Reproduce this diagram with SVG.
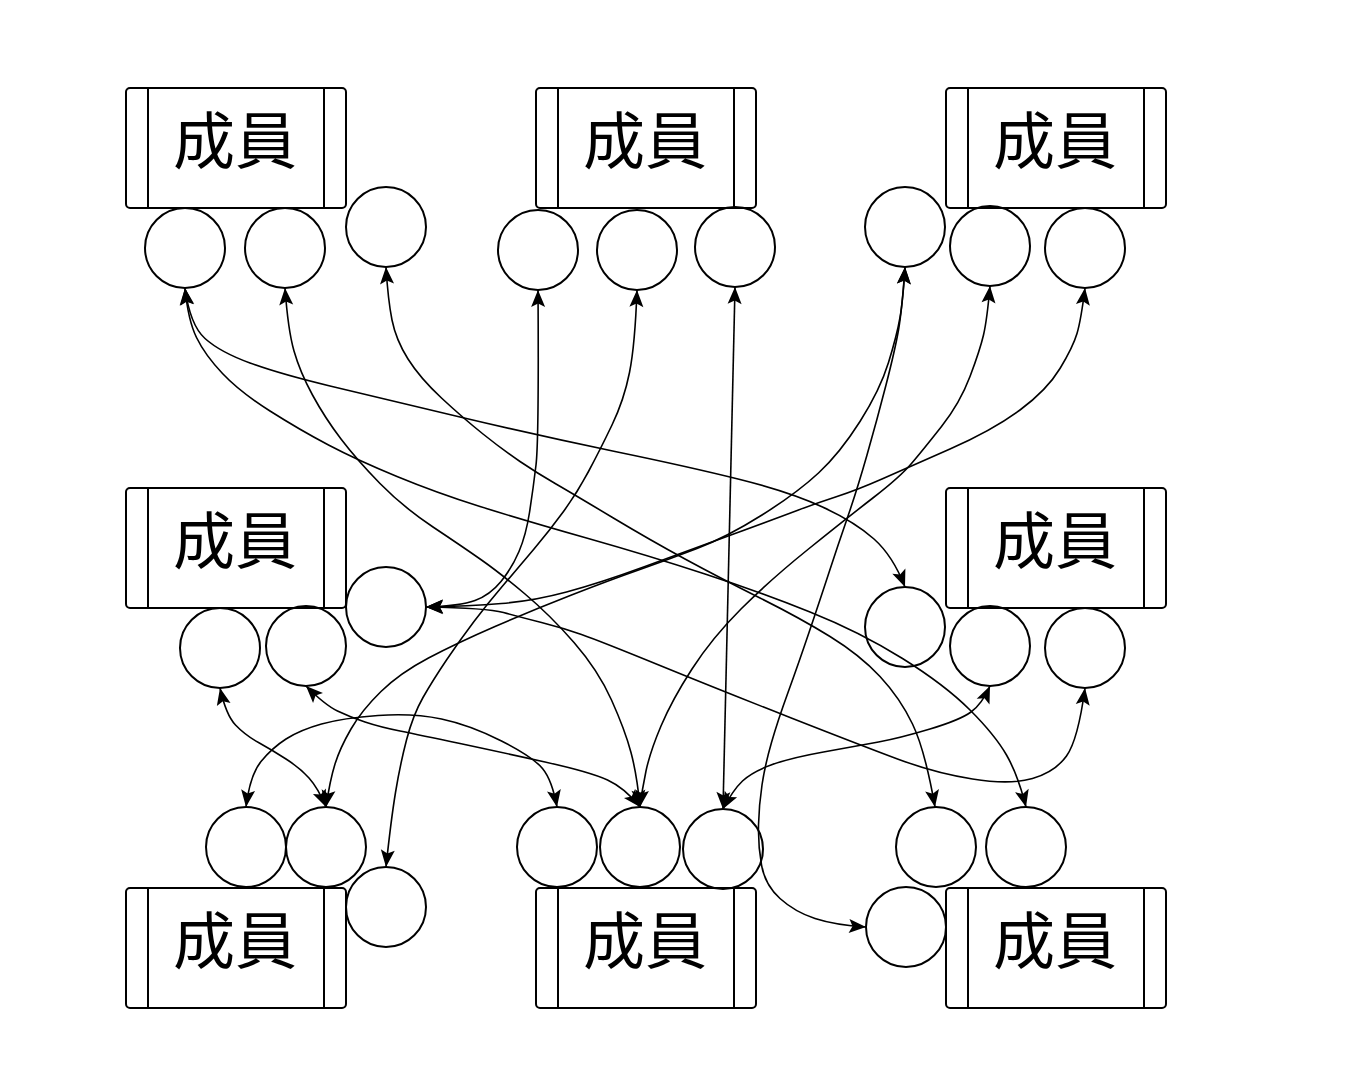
<svg xmlns="http://www.w3.org/2000/svg" width="1346" height="1066" viewBox="0 0 1346 1066">
<style>
.box{fill:#fff;stroke:#000;stroke-width:2}
.bar{stroke:#000;stroke-width:2}
.lbl{font-family:"Noto Sans CJK TC","Noto Sans CJK JP",sans-serif;font-size:62px;fill:#000;text-anchor:middle}
.port{fill:none;stroke:#000;stroke-width:2}
.e{fill:none;stroke:#000;stroke-width:1.6}
</style>
<defs>
<marker id="ar" markerUnits="userSpaceOnUse" markerWidth="20" markerHeight="16" refX="17" refY="8" orient="auto-start-reverse" overflow="visible">
<path d="M0,1 L17,8 L0,15 L3.5,8 z" fill="#000" stroke="none"/>
</marker>
<g id="member">
<rect class="box" x="0" y="0" width="220" height="120" rx="4"/>
<line class="bar" x1="22" y1="0" x2="22" y2="120"/>
<line class="bar" x1="198" y1="0" x2="198" y2="120"/>
<text class="lbl" x="109" y="76">成員</text>
</g>
</defs>
<rect width="1346" height="1066" fill="#fff"/>
<g id="m-top-left"><use href="#member" x="126" y="88"/></g>
<g id="m-top-mid"><use href="#member" x="536" y="88"/></g>
<g id="m-top-right"><use href="#member" x="946" y="88"/></g>
<g id="m-mid-left"><use href="#member" x="126" y="488"/></g>
<g id="m-mid-right"><use href="#member" x="946" y="488"/></g>
<g id="m-bot-left"><use href="#member" x="126" y="888"/></g>
<g id="m-bot-mid"><use href="#member" x="536" y="888"/></g>
<g id="m-bot-right"><use href="#member" x="946" y="888"/></g>
<g id="p-tl1"><circle class="port" cx="185" cy="248" r="40"/></g>
<g id="p-tl2"><circle class="port" cx="285" cy="248" r="40"/></g>
<g id="p-tl3"><circle class="port" cx="386" cy="227" r="40"/></g>
<g id="p-tm1"><circle class="port" cx="538" cy="250" r="40"/></g>
<g id="p-tm2"><circle class="port" cx="637" cy="250" r="40"/></g>
<g id="p-tm3"><circle class="port" cx="735" cy="247" r="40"/></g>
<g id="p-tr1"><circle class="port" cx="905" cy="227" r="40"/></g>
<g id="p-tr2"><circle class="port" cx="990" cy="246" r="40"/></g>
<g id="p-tr3"><circle class="port" cx="1085" cy="248" r="40"/></g>
<g id="p-ml1"><circle class="port" cx="220" cy="648" r="40"/></g>
<g id="p-ml2"><circle class="port" cx="306" cy="646" r="40"/></g>
<g id="p-ml3"><circle class="port" cx="386" cy="607" r="40"/></g>
<g id="p-mr1"><circle class="port" cx="905" cy="627" r="40"/></g>
<g id="p-mr2"><circle class="port" cx="990" cy="646" r="40"/></g>
<g id="p-mr3"><circle class="port" cx="1085" cy="648" r="40"/></g>
<g id="p-bl1"><circle class="port" cx="246" cy="847" r="40"/></g>
<g id="p-bl2"><circle class="port" cx="326" cy="847" r="40"/></g>
<g id="p-bl3"><circle class="port" cx="386" cy="907" r="40"/></g>
<g id="p-bm1"><circle class="port" cx="557" cy="847" r="40"/></g>
<g id="p-bm2"><circle class="port" cx="640" cy="847" r="40"/></g>
<g id="p-bm3"><circle class="port" cx="723" cy="849" r="40"/></g>
<g id="p-br1"><circle class="port" cx="936" cy="847" r="40"/></g>
<g id="p-br2"><circle class="port" cx="1026" cy="847" r="40"/></g>
<g id="p-br3"><circle class="port" cx="906" cy="927" r="40"/></g>
<g id="connectors" marker-start="url(#ar)" marker-end="url(#ar)">
<path class="e" marker-start="url(#ar)" marker-end="url(#ar)" d="M185,288 Q190,325 205,338.5 Q220,352 250,363 Q280,374 330,386 Q380,398 460,417 Q540,436 615,451.5 Q690,467 740,479.5 Q790,492 822.5,507 Q855,522 874,539 Q893,556 905,587"/>
<path class="e" marker-start="url(#ar)" marker-end="url(#ar)" d="M185,288 Q188,320 196.5,337.5 Q205,355 222.5,373.5 Q240,392 270,411 Q300,430 328.5,445 Q357,460 397,476.5 Q437,493 480,506.5 Q523,520 586.5,538 Q650,556 705,574 Q760,592 810,612 Q860,632 902.5,658.5 Q945,685 970,710 Q995,735 1006.5,755 Q1018,775 1026,807"/>
<path class="e" marker-start="url(#ar)" marker-end="url(#ar)" d="M285,288 Q288,330 294,351 Q300,372 312.5,395 Q325,418 341,439 Q357,460 380,483.5 Q403,507 433,527 Q463,547 481.5,560 Q500,573 525,594 Q550,615 574,642.5 Q598,670 611.5,700 Q625,730 631,752.5 Q637,775 640,807"/>
<path class="e" marker-start="url(#ar)" marker-end="url(#ar)" d="M386,267 Q388,300 392,320 Q396,340 408,359 Q420,378 441.5,398 Q463,418 483,434 Q503,450 520,461.5 Q537,473 556,484 Q575,495 612.5,517.5 Q650,540 685,559 Q720,578 760,598 Q800,618 830,636.5 Q860,655 880,676.5 Q900,698 912.5,724 Q925,750 935,807"/>
<path class="e" marker-start="url(#ar)" marker-end="url(#ar)" d="M538,290 Q539,440 536,465 Q533,490 529.5,512.5 Q526,535 519,551.5 Q512,568 501,581.5 Q490,595 475,600.5 Q460,606 426,607"/>
<path class="e" marker-start="url(#ar)" marker-end="url(#ar)" d="M637,290 Q635,345 629.5,372.5 Q624,400 612,425 Q600,450 588.5,471.5 Q577,493 563.5,511.5 Q550,530 534,549 Q518,568 503,585.5 Q488,603 474,621.5 Q460,640 446.5,660 Q433,680 423,697.5 Q413,715 406.5,740 Q400,765 395.5,792.5 Q391,820 386,867"/>
<path class="e" marker-start="url(#ar)" marker-end="url(#ar)" d="M735,287 L723,809"/>
<path class="e" marker-start="url(#ar)" marker-end="url(#ar)" d="M905,267 Q903,300 900,317.5 Q897,335 888.5,362.5 Q880,390 860,421.5 Q840,453 818.5,473 Q797,493 762,515 Q727,537 697,548.5 Q667,560 638.5,570 Q610,580 571.5,595 Q533,610 495,626.5 Q457,643 428.5,658 Q400,673 381,691.5 Q362,710 351,729 Q340,748 335,764 Q330,780 326,807"/>
<path class="e" marker-start="url(#ar)" marker-end="url(#ar)" d="M905,267 Q902,310 898.5,330 Q895,350 886,385 Q877,420 867,455 Q857,490 847.5,517.5 Q838,545 829,572.5 Q820,600 809,632.5 Q798,665 788,692.5 Q778,720 771.5,742.5 Q765,765 762,785 Q759,805 758.5,825 Q758,845 761.5,865 Q765,885 780,898.5 Q795,912 815,918.5 Q835,925 866,927"/>
<path class="e" marker-start="url(#ar)" marker-end="url(#ar)" d="M990,286 Q987,320 983.5,335 Q980,350 970,376.5 Q960,403 941.5,426.5 Q923,450 911.5,463.5 Q900,477 873.5,497.5 Q847,518 808.5,549 Q770,580 741,609 Q712,638 692,669 Q672,700 661,726 Q650,752 646,771 Q642,790 640,807"/>
<path class="e" marker-start="url(#ar)" marker-end="url(#ar)" d="M1085,288 Q1081,320 1077,333.5 Q1073,347 1060,368.5 Q1047,390 1020,410 Q993,430 950,449 Q907,468 882,479 Q857,490 837,496.5 Q817,503 798.5,510 Q780,517 735,533.5 Q690,550 645,566.5 Q600,583 566.5,592 Q533,601 501.5,603.5 Q470,606 426,607"/>
<path class="e" marker-start="url(#ar)" marker-end="url(#ar)" d="M220,688 Q226,715 235.5,725 Q245,735 258.5,742.5 Q272,750 286,759 Q300,768 309,778 Q318,788 326,807"/>
<path class="e" marker-start="url(#ar)" marker-end="url(#ar)" d="M306,686 Q325,705 337.5,711 Q350,717 365,722 Q380,727 400,731 Q420,735 460,743.5 Q500,752 545,762 Q590,772 607.5,780 Q625,788 640,807"/>
<path class="e" marker-start="url(#ar)" marker-end="url(#ar)" d="M426,607 Q487,608 503.5,612.5 Q520,617 541.5,622.5 Q563,628 581.5,634.5 Q600,641 660,665.5 Q720,690 790,717.5 Q860,745 897.5,759 Q935,773 972.5,779 Q1010,785 1032.5,778.5 Q1055,772 1066.5,756 Q1078,740 1085,688"/>
<path class="e" marker-start="url(#ar)" marker-end="url(#ar)" d="M990,686 Q982,704 971,712 Q960,720 930,729 Q900,738 878.5,742 Q857,746 823.5,752 Q790,758 771,765 Q752,772 742.5,781 Q733,790 723,809"/>
<path class="e" marker-start="url(#ar)" marker-end="url(#ar)" d="M246,807 Q250,775 261,761.5 Q272,748 286,739 Q300,730 321.5,724 Q343,718 378,715.5 Q413,713 441.5,719 Q470,725 501.5,741 Q533,757 542.5,768.5 Q552,780 557,807"/>
</g>
</svg>
